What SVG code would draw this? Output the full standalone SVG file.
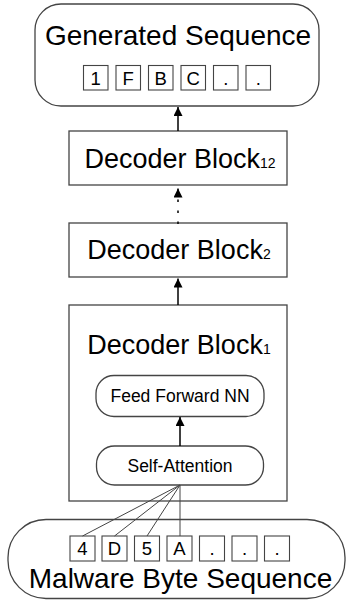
<svg xmlns="http://www.w3.org/2000/svg" width="346" height="601" viewBox="0 0 346 601">
<defs>
<marker id="ah" markerUnits="userSpaceOnUse" markerWidth="9" markerHeight="9" refX="9" refY="4.5" orient="auto">
<path d="M0,0 L9,4.5 L0,9 z" fill="#000"/>
</marker>
<style>
.box{fill:#fff;stroke:#444;stroke-width:1.3}
.tok{fill:#fff;stroke:#444;stroke-width:1.1}
.big{font-family:"Liberation Sans",Arial,sans-serif;font-size:28px;fill:#000;text-anchor:middle}
.dec{font-family:"Liberation Sans",Arial,sans-serif;font-size:27px;fill:#000;text-anchor:middle}
.sub{font-size:14px}
.mid{font-family:"Liberation Sans",Arial,sans-serif;font-size:17.5px;fill:#000;text-anchor:middle}
.t{font-family:"Liberation Sans",Arial,sans-serif;font-size:18.5px;fill:#000;text-anchor:middle}
.arr{stroke:#000;stroke-width:1.5;fill:none}
.ln{stroke:#444;stroke-width:1;fill:none}
</style>
</defs>
<g id="generated">
<rect class="box" x="35" y="4" width="284" height="102" rx="26"/>
<text class="big" x="178" y="45">Generated Sequence</text>
<rect class="tok" x="83.5" y="65.5" width="24.5" height="24.5"/><text class="t" x="95.75" y="85">1</text>
<rect class="tok" x="116" y="65.5" width="24.5" height="24.5"/><text class="t" x="128.25" y="85">F</text>
<rect class="tok" x="148.5" y="65.5" width="24.5" height="24.5"/><text class="t" x="160.75" y="85">B</text>
<rect class="tok" x="181" y="65.5" width="24.5" height="24.5"/><text class="t" x="193.25" y="85">C</text>
<rect class="tok" x="213.5" y="65.5" width="24.5" height="24.5"/><text class="t" x="225.75" y="85">.</text>
<rect class="tok" x="246" y="65.5" width="24.5" height="24.5"/><text class="t" x="258.25" y="85">.</text>
</g>
<g id="decoder12">
<rect class="box" x="69" y="131" width="218" height="54"/>
<text class="dec" x="180" y="167.5">Decoder Block<tspan class="sub">12</tspan></text>
</g>
<g id="decoder2">
<rect class="box" x="69" y="223" width="218" height="54"/>
<text class="dec" x="179" y="259.3">Decoder Block<tspan class="sub">2</tspan></text>
</g>
<g id="decoder1">
<rect class="box" x="69" y="305" width="218" height="196"/>
<text class="dec" x="179" y="354">Decoder Block<tspan class="sub">1</tspan></text>
</g>
<g id="ffnn">
<rect class="box" x="96" y="375.5" width="168" height="41" rx="18"/>
<text class="mid" x="180" y="402">Feed Forward NN</text>
</g>
<g id="selfatt">
<rect class="box" x="96.5" y="446" width="167" height="39" rx="18"/>
<text class="mid" x="180" y="471.5" font-size="18.5">Self-Attention</text>
</g>
<g id="malware">
<rect class="box" x="8" y="519.5" width="337" height="79" rx="38"/>
<rect class="tok" x="70" y="536" width="25" height="25"/><text class="t" x="82.5" y="555">4</text>
<rect class="tok" x="102" y="536" width="25" height="25"/><text class="t" x="114.5" y="555">D</text>
<rect class="tok" x="134.5" y="536" width="25" height="25"/><text class="t" x="147" y="555">5</text>
<rect class="tok" x="167" y="536" width="25" height="25"/><text class="t" x="179.5" y="555">A</text>
<rect class="tok" x="199.5" y="536" width="25" height="25"/><text class="t" x="212" y="555">.</text>
<rect class="tok" x="232" y="536" width="25" height="25"/><text class="t" x="244.5" y="555">.</text>
<rect class="tok" x="264.5" y="536" width="25" height="25"/><text class="t" x="277" y="555">.</text>
<text class="big" x="180.5" y="587.5">Malware Byte Sequence</text>
</g>
<g id="connectors">
<line class="arr" x1="178" y1="131" x2="178" y2="107" marker-end="url(#ah)"/>
<line class="arr" x1="178" y1="224" x2="178" y2="188.5" stroke-dasharray="2.5 8.5" marker-end="url(#ah)"/>
<line class="arr" x1="178" y1="305" x2="178" y2="278.5" marker-end="url(#ah)"/>
<line class="arr" x1="180" y1="446" x2="180" y2="417" marker-end="url(#ah)"/>
<line class="ln" x1="180" y1="485" x2="82.5" y2="536"/>
<line class="ln" x1="180" y1="485" x2="114.5" y2="536"/>
<line class="ln" x1="180" y1="485" x2="147" y2="536"/>
<line class="ln" x1="180" y1="485" x2="180" y2="536"/>
</g>
</svg>
